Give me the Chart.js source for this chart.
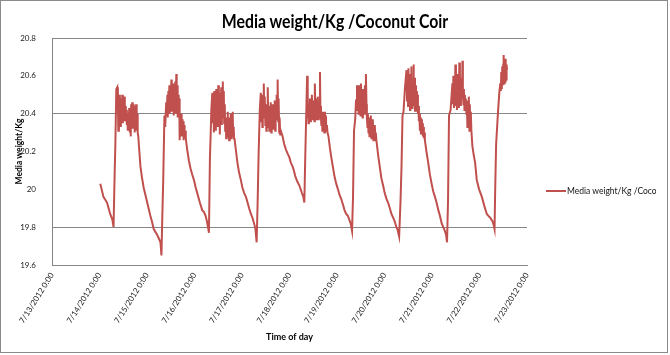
<!DOCTYPE html>
<html>
<head>
<meta charset="utf-8">
<script src="https://cdn.jsdelivr.net/npm/chart.js@4.4.0/dist/chart.umd.min.js"></script>
<style>
html,body{margin:0;padding:0;background:#fff;}
#wrap{position:relative;width:670px;height:355px;overflow:hidden;}
#frame{position:absolute;left:0;top:0;width:666px;height:351px;border:1px solid #8a8a8a;pointer-events:none;}
#c{position:absolute;left:0;top:0;}
#title{position:absolute;top:10px;left:0;width:670px;text-align:center;font:bold 18px Lato,sans-serif;line-height:22px;color:#000;transform:scaleX(0.88);transform-origin:335px 0;}
#legend{position:absolute;left:546px;top:185px;width:110px;height:14px;overflow:hidden;white-space:nowrap;font:8.5px Lato,sans-serif;line-height:12px;color:#111;}
#legend .sw{display:inline-block;width:20px;height:2px;background:#C0504D;vertical-align:middle;margin-right:1px;position:relative;top:-1px;}
</style>
</head>
<body>
<div id="wrap">
  <canvas id="c" width="670" height="355"></canvas>
  <div id="title">Media weight/Kg /Coconut Coir</div>
  <div id="legend"><span class="sw"></span>Media weight/Kg /Coconut Coir</div>
  <div id="frame"></div>
</div>
<script>
// hours since 7/13/2012 0:00, media weight (kg)
const cycle1 = [[24.4,20.03],[26.0,19.96],[27.8,19.93],[29.4,19.87],[30.5,19.84],[31.1,19.80],[31.5,20.01],[32.0,20.23],[32.5,20.53],[33.0,20.54],
[33.3,20.45],[33.5,20.31],[33.8,20.42],[34.0,20.50],[34.3,20.36],[34.5,20.48],[34.8,20.33],[35.0,20.46],[35.3,20.38],[35.5,20.50],[35.8,20.35],[36.0,20.47],[36.3,20.40],[36.5,20.49],[36.8,20.36],[37.0,20.44],[37.3,20.39],[37.5,20.42],[37.8,20.34],[38.0,20.40],[38.3,20.31],[38.5,20.38],[38.8,20.34],[39.0,20.43],[39.3,20.30],[39.5,20.41],[39.8,20.28],[40.0,20.45],[40.3,20.33],[40.5,20.46],[40.8,20.32],[41.0,20.45],[41.3,20.36],[41.5,20.44],[41.8,20.30],[42.0,20.43],[42.3,20.34],[42.5,20.45],[42.8,20.31],[43.0,20.40],[43.3,20.30],[43.6,20.28]];
const cycle2 = [[44.0,20.22],[44.7,20.12],[45.5,20.06],[46.3,20.01],[47.2,19.97],[48.1,19.93],[49.7,19.86],[50.5,19.83],[51.4,19.79],[53.1,19.76],[54.0,19.74],[54.8,19.72],[55.3,19.65],[55.7,19.84],[56.2,20.05],[56.8,20.39],[57.2,20.33],[57.7,20.46],
[58.0,20.40],[58.3,20.50],[58.5,20.38],[58.8,20.52],[59.0,20.42],[59.3,20.55],[59.5,20.40],[59.8,20.53],[60.0,20.44],[60.3,20.58],[60.5,20.41],[60.8,20.54],[61.0,20.43],[61.3,20.56],[61.5,20.39],[61.8,20.52],[62.0,20.45],[62.3,20.57],[62.5,20.40],[62.8,20.61],[63.0,20.42],[63.3,20.55],[63.5,20.38],[63.8,20.50],[64.0,20.43],[64.3,20.48],[64.5,20.26],[64.8,20.37],[65.0,20.30],[65.3,20.40],[65.5,20.28],[65.8,20.37],[66.0,20.31],[66.3,20.36],[66.5,20.26],[66.8,20.34],[67.0,20.28],[67.3,20.31],[67.6,20.27]];
const cycle3 = [[68.3,20.21],[69.2,20.15],[70.0,20.11],[70.8,20.08],[71.7,20.05],[72.6,20.01],[73.4,19.98],[74.7,19.93],[75.9,19.89],[76.8,19.88],[77.6,19.86],[78.3,19.83],[78.8,19.80],[79.3,19.77],[79.8,20.17],[80.2,20.30],[80.5,20.42],[81.0,20.51],
[81.3,20.35],[81.5,20.49],[81.8,20.30],[82.0,20.52],[82.3,20.38],[82.5,20.50],[82.8,20.31],[83.0,20.53],[83.3,20.36],[83.5,20.48],[83.8,20.33],[84.0,20.55],[84.3,20.40],[84.5,20.51],[84.8,20.29],[85.0,20.47],[85.3,20.37],[85.5,20.54],[85.8,20.34],[86.0,20.50],[86.3,20.57],[86.5,20.38],[86.8,20.52],[87.0,20.35],[87.3,20.45],[87.5,20.31],[87.8,20.38],[88.0,20.27],[88.3,20.36],[88.5,20.29],[88.8,20.41],[89.0,20.28],[89.3,20.34],[89.5,20.26],[89.8,20.38],[90.0,20.29],[90.3,20.40],[90.5,20.27],[90.8,20.35],[91.0,20.28],[91.3,20.41],[91.5,20.30],[91.8,20.33],[92.0,20.27]];
const cycle4 = [[92.3,20.26],[93.0,20.20],[93.7,20.14],[94.5,20.09],[95.4,20.05],[96.2,20.01],[97.1,19.98],[98.0,19.96],[98.8,19.93],[99.6,19.90],[100.5,19.87],[101.3,19.85],[102.1,19.82],[102.8,19.79],[103.4,19.72],[103.9,19.93],[104.4,20.19],[105.0,20.42],[105.5,20.51],
[105.8,20.36],[106.0,20.47],[106.3,20.33],[106.5,20.50],[106.8,20.40],[107.0,20.56],[107.3,20.38],[107.5,20.49],[107.8,20.34],[108.0,20.45],[108.3,20.31],[108.5,20.43],[108.8,20.36],[109.0,20.54],[109.3,20.33],[109.5,20.44],[109.8,20.31],[110.0,20.42],[110.3,20.35],[110.5,20.46],[110.8,20.30],[111.0,20.43],[111.3,20.36],[111.5,20.45],[111.8,20.32],[112.0,20.44],[112.3,20.34],[112.5,20.47],[112.8,20.31],[113.0,20.42],[113.3,20.37],[113.5,20.50],[113.8,20.40],[114.0,20.58],[114.3,20.36],[114.5,20.48],[114.8,20.30],[115.0,20.38],[115.3,20.29],[115.6,20.31]];
const cycle5 = [[116.5,20.28],[117.3,20.24],[118.2,20.21],[119.0,20.19],[119.9,20.17],[120.7,20.14],[121.6,20.12],[122.2,20.10],[122.9,20.07],[124.0,20.04],[125.0,20.02],[126.3,19.98],[127.0,19.96],[127.5,19.93],[127.9,20.14],[128.4,20.37],[128.9,20.60],
[129.1,20.38],[129.3,20.47],[129.6,20.35],[129.8,20.45],[130.1,20.37],[130.3,20.48],[130.6,20.36],[130.8,20.46],[131.1,20.40],[131.3,20.50],[131.6,20.37],[131.8,20.44],[132.1,20.38],[132.3,20.47],[132.6,20.36],[132.8,20.56],[133.1,20.41],[133.3,20.48],[133.6,20.37],[133.8,20.46],[134.1,20.40],[134.3,20.49],[134.6,20.37],[134.8,20.45],[135.1,20.38],[135.4,20.62],[135.6,20.44],[135.9,20.38],[136.1,20.34],[136.4,20.40],[136.6,20.31],[136.9,20.41],[137.1,20.32],[137.4,20.40],[137.6,20.30],[137.9,20.41],[138.1,20.33],[138.4,20.39],[138.6,20.31],[138.9,20.34],[139.2,20.30]];
const cycle6 = [[139.7,20.28],[140.4,20.22],[141.1,20.17],[141.9,20.12],[142.7,20.07],[143.6,20.03],[144.5,20.00],[145.3,19.97],[146.1,19.95],[147.0,19.92],[147.8,19.89],[148.6,19.87],[149.5,19.86],[150.2,19.84],[150.9,19.82],[151.6,19.78],[152.1,19.96],[152.6,20.31],[153.2,20.37],[153.6,20.47],[154.1,20.55],
[154.4,20.42],[154.6,20.53],[154.9,20.40],[155.1,20.55],[155.4,20.44],[155.6,20.51],[155.9,20.39],[156.1,20.56],[156.4,20.43],[156.6,20.50],[156.9,20.38],[157.1,20.53],[157.4,20.41],[157.6,20.49],[157.9,20.40],[158.1,20.55],[158.4,20.42],[158.6,20.61],[158.9,20.45],[159.1,20.38],[159.4,20.33],[159.6,20.40],[159.9,20.30],[160.1,20.38],[160.4,20.28],[160.6,20.36],[160.9,20.31],[161.1,20.39],[161.4,20.27],[161.6,20.35],[161.9,20.29],[162.1,20.37],[162.4,20.26],[162.6,20.33],[162.9,20.28],[163.1,20.34],[163.4,20.26],[163.6,20.30]];
const cycle7 = [[163.9,20.26],[164.8,20.18],[165.6,20.12],[166.4,20.06],[167.3,20.02],[168.1,19.98],[169.0,19.95],[169.8,19.93],[170.7,19.90],[171.5,19.87],[172.4,19.85],[173.2,19.83],[174.0,19.80],[174.5,19.79],[175.4,19.75],[176.1,19.94],[176.6,20.12],[177.1,20.39],[177.6,20.41],[178.3,20.53],[179.1,20.63],
[179.4,20.47],[179.6,20.60],[179.9,20.44],[180.1,20.64],[180.4,20.46],[180.6,20.58],[180.9,20.42],[181.1,20.61],[181.4,20.45],[181.6,20.65],[181.9,20.43],[182.1,20.57],[182.4,20.47],[182.6,20.66],[182.9,20.44],[183.1,20.59],[183.4,20.41],[183.6,20.55],[183.9,20.46],[184.1,20.52],[184.4,20.41],[184.6,20.50],[184.9,20.40],[185.1,20.44],[185.4,20.36],[185.6,20.40],[185.9,20.31],[186.1,20.38],[186.4,20.29],[186.6,20.37],[186.9,20.30],[187.1,20.35],[187.4,20.28],[187.6,20.33],[187.9,20.27],[188.1,20.30]];
const cycle8 = [[188.4,20.26],[189.2,20.20],[190.1,20.14],[190.9,20.08],[191.8,20.03],[192.6,19.99],[193.5,19.96],[194.3,19.93],[195.2,19.89],[196.0,19.86],[196.9,19.82],[197.7,19.80],[198.5,19.78],[199.1,19.76],[199.6,19.72],[200.1,19.94],[200.6,20.39],[201.4,20.42],[202.3,20.56],
[202.6,20.45],[202.8,20.60],[203.1,20.43],[203.3,20.57],[203.6,20.46],[203.8,20.66],[204.1,20.44],[204.3,20.58],[204.6,20.42],[204.8,20.61],[205.1,20.46],[205.3,20.56],[205.6,20.43],[205.8,20.67],[206.1,20.47],[206.3,20.59],[206.6,20.44],[206.8,20.57],[207.1,20.48],[207.4,20.68],[207.6,20.50],[207.9,20.45],[208.1,20.53],[208.4,20.42],[208.6,20.50],[208.9,20.44],[209.1,20.48],[209.4,20.40],[209.6,20.45],[209.9,20.33],[210.1,20.47],[210.4,20.35],[210.6,20.49],[210.9,20.31],[211.1,20.45],[211.4,20.33],[211.6,20.41],[211.9,20.31]];
const cycle9 = [[212.4,20.23],[213.1,20.18],[213.8,20.14],[214.6,20.05],[215.8,20.00],[217.2,19.96],[218.5,19.91],[219.7,19.87],[220.5,19.86],[221.4,19.85],[222.6,19.83],[223.2,19.81],[223.6,19.79],[223.9,19.98],[224.4,20.24],[225.3,20.40],[226.0,20.51],[226.5,20.56],
[226.8,20.52],[227.0,20.62],[227.3,20.53],[227.5,20.65],[227.8,20.55],[228.0,20.66],[228.2,20.71],[228.5,20.56],[228.7,20.68],[229.0,20.57],[229.2,20.69],[229.5,20.58],[229.7,20.66],[229.9,20.63]];

const dateLabels = ['7/13/2012 0:00','7/14/2012 0:00','7/15/2012 0:00','7/16/2012 0:00','7/17/2012 0:00','7/18/2012 0:00','7/19/2012 0:00','7/20/2012 0:00','7/21/2012 0:00','7/22/2012 0:00','7/23/2012 0:00'];
const yTickValues = [19.6, 19.8, 20, 20.2, 20.4, 20.6, 20.8];
const gridLineValues = [19.8, 20.4, 20.8];

const seriesName = 'Media weight/Kg /Coconut Coir';
const allCycles = [cycle1, cycle2, cycle3, cycle4, cycle5, cycle6, cycle7, cycle8, cycle9];
const points = [];
allCycles.forEach(c => c.forEach(p => points.push({x: p[0], y: p[1]})));

const FONT = 'Lato, sans-serif';
new Chart(document.getElementById('c'), {
  type: 'line',
  data: {
    datasets: [{
      label: seriesName,
      data: points,
      borderColor: '#C0504D',
      backgroundColor: '#C0504D',
      borderWidth: 2,
      pointRadius: 0,
      tension: 0,
      fill: false
    }]
  },
  options: {
    responsive: false,
    animation: false,
    events: [],
    layout: { padding: { left: 0, top: 38, right: 143, bottom: 0 } },
    plugins: { legend: { display: false }, title: { display: false }, tooltip: { enabled: false } },
    scales: {
      x: {
        type: 'linear',
        min: 0, max: 240,
        afterBuildTicks: s => { s.ticks = dateLabels.map((_, i) => ({ value: i * 24 })); },
        afterFit: s => { s.height = 90; },
        grid: { display: false, drawTicks: false },
        border: { display: true, color: '#868686', width: 1 },
        ticks: {
          autoSkip: false, minRotation: 58, maxRotation: 58, padding: 6,
          color: '#222', font: { family: FONT, size: 8 },
          callback: (v) => dateLabels[Math.round(v / 24)]
        },
        title: { display: true, text: 'Time of day', color: '#000', font: { family: FONT, size: 9, weight: 'bold' }, padding: { top: 0, bottom: 13 } }
      },
      y: {
        min: 19.6, max: 20.8,
        afterBuildTicks: s => { s.ticks = yTickValues.map(v => ({ value: v })); },
        afterFit: s => { s.width = 52; },
        grid: {
          drawTicks: false,
          color: ctx => (ctx.tick && gridLineValues.includes(ctx.tick.value)) ? '#868686' : 'rgba(0,0,0,0)',
          lineWidth: 1
        },
        border: { display: true, color: '#868686', width: 1 },
        ticks: {
          padding: 16, color: '#222', font: { family: FONT, size: 8 },
          callback: v => String(Number(v.toFixed(1)))
        },
        title: { display: true, text: 'Media weight/Kg', color: '#000', font: { family: FONT, size: 8.5, weight: 'bold' }, padding: { top: 14, bottom: 0 } }
      }
    }
  }
});
</script>
</body>
</html>
